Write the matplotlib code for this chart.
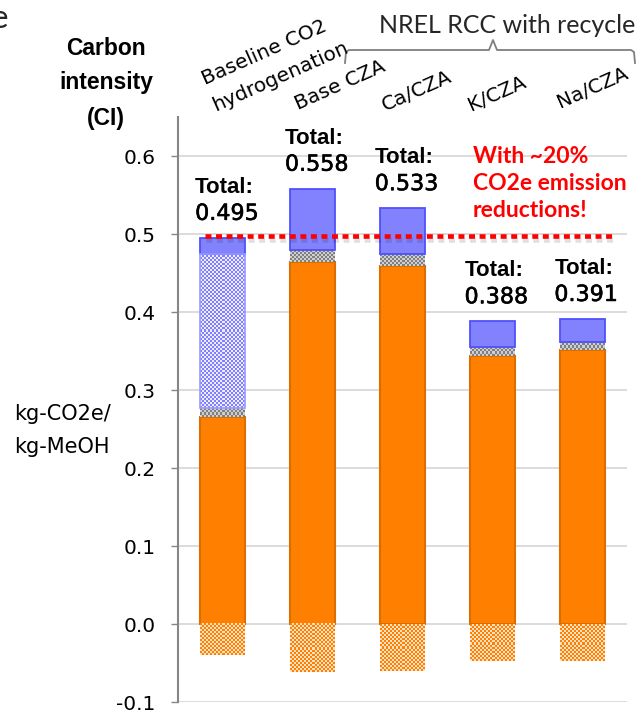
import numpy as np
import matplotlib
matplotlib.use('Agg')
import matplotlib.pyplot as plt
import matplotlib.patheffects as pe
from matplotlib.colors import to_rgb
from matplotlib.lines import Line2D

# CI breakdown per case (kg-CO2e / kg-MeOH)
categories = ['Baseline CO2\nhydrogenation', 'Base CZA', 'Ca/CZA', 'K/CZA', 'Na/CZA']
orange_part = [0.266, 0.464, 0.459, 0.344, 0.351]
gray_part = [0.011, 0.015, 0.015, 0.011, 0.011]
lightblue_part = [0.198, 0.0, 0.0, 0.0, 0.0]
blue_part = [0.020, 0.079, 0.059, 0.033, 0.029]
credit_part = [-0.040, -0.062, -0.060, -0.047, -0.047]
ref_level = 0.497
yticks = [-0.1, 0.0, 0.1, 0.2, 0.3, 0.4, 0.5, 0.6]

plt.rcParams['axes.unicode_minus'] = False
plt.rcParams['font.family'] = ['DejaVu Sans']

W, H = 644, 711
fig = plt.figure(figsize=(W / 100, H / 100), dpi=100)


def fpos(px, py):
    return px / W, 1 - py / H


ax = fig.add_axes([178 / W, 1 - 702 / H, 449 / W, 585 / H])
ax.set_xlim(-0.5, 4.5)
ax.set_ylim(-0.1, 0.65)
ax.set_autoscale_on(False)

x = np.arange(len(categories))
width = 0.5


def checker(c1, c2, rows, cols):
    ii, jj = np.indices((rows, cols))
    mask = ((ii + jj) % 2 == 0)[..., None]
    return np.where(mask, np.array(to_rgb(c1)), np.array(to_rgb(c2)))


def textured_bar(xc, bottom, height, c1, c2, edge=None):
    if height == 0:
        return
    l, r = xc - width / 2, xc + width / 2
    b, t = sorted([bottom, bottom + height])
    p0 = ax.transData.transform((l, b))
    p1 = ax.transData.transform((r, t))
    cols = max(int(round((p1[0] - p0[0]) / 2)), 1)
    rows = max(int(round((p1[1] - p0[1]) / 2)), 1)
    ax.imshow(checker(c1, c2, rows, cols), extent=(l, r, b, t), aspect='auto',
              interpolation='nearest', zorder=3)
    if edge is not None:
        ax.bar(xc, height, width, bottom=bottom, facecolor='none',
               edgecolor=edge, linewidth=1.2, zorder=3.5)


orange = np.array(orange_part)
gray = np.array(gray_part)
lblue = np.array(lightblue_part)
blue = np.array(blue_part)
totals = orange + gray + lblue + blue

ax.bar(x, orange, width, color='#FF8000', edgecolor='#DC6E00', linewidth=1.5, zorder=3)
for i in x:
    textured_bar(i, orange[i], gray[i], '#7F7F7F', '#CFCFCF')
    textured_bar(i, orange[i] + gray[i], lblue[i], '#7F7FFF', '#EDEDFF', edge='#9A9AFF')
    textured_bar(i, 0, credit_part[i], '#FF8000', '#FFE2C4')
ax.bar(x, blue, width, bottom=orange + gray + lblue, color='#8282FF',
       edgecolor='#5050FF', linewidth=1.3, zorder=3)

# total labels
for xi, tot in zip(x, totals):
    ax.annotate(f'{tot:.3f}', (xi, tot), xytext=(-20, 13), textcoords='offset points',
                ha='left', va='baseline', fontsize=16,
                path_effects=[pe.withStroke(linewidth=0.4, foreground='black')])
    ax.annotate('Total:', (xi, tot), xytext=(-20, 32.5), textcoords='offset points',
                ha='left', va='baseline', fontsize=16, fontweight='bold',
                family='Liberation Sans')

# reference level of the baseline case
ax.plot([-0.2, 4.38], [ref_level, ref_level], color='#FF0000', lw=3.3,
        ls=(0, (1.3, 1.0)), dash_capstyle='butt', zorder=6,
        path_effects=[pe.SimpleLineShadow(offset=(0.5, -2.5), shadow_color='k', alpha=0.12),
                      pe.Normal()])
ax.text(2.78, 0.613, 'With ~20%\nCO2e emission\nreductions!', color='#FF0000',
        fontsize=16.5, fontweight='bold', family='Lato', ha='left', va='top',
        linespacing=1.35, zorder=7)

# axes styling
for s in ['top', 'right', 'bottom']:
    ax.spines[s].set_visible(False)
ax.spines['left'].set_color('#868686')
ax.spines['left'].set_linewidth(1.5)
ax.set_xticks([])
ax.set_yticks(yticks)
ax.set_yticklabels([f'{v:.1f}' for v in yticks])
ax.tick_params(axis='y', length=5, width=1, color='#868686', pad=11, labelsize=14.5)
ax.yaxis.grid(True, color='#D9D9D9', linewidth=1.3)
ax.set_axisbelow(True)

# axis titles
fig.text(*fpos(106, 55), 'Carbon', ha='center', va='baseline', fontsize=16.5,
         fontweight='bold', family='Liberation Sans')
fig.text(*fpos(106, 89), 'intensity', ha='center', va='baseline', fontsize=16.5,
         fontweight='bold', family='Liberation Sans')
fig.text(*fpos(106, 125), '(CI)', ha='center', va='baseline', fontsize=16.5,
         fontweight='bold', family='Liberation Sans')
fig.text(*fpos(62, 420), 'kg-CO2e/', ha='center', va='baseline', fontsize=15)
fig.text(*fpos(62, 453), 'kg-MeOH', ha='center', va='baseline', fontsize=15)
fig.text(*fpos(-9, 28), 'e', ha='left', va='baseline', fontsize=24, family='Lato',
         color='#262626')

# rotated case labels
label_pos = [[(205, 85), (215, 111)], [(298, 110)], [(385, 111)], [(471, 111)], [(560, 108)]]
for name, spots in zip(categories, label_pos):
    for line, (px, py) in zip(name.split('\n'), spots):
        fig.text(*fpos(px, py), line, rotation=24, rotation_mode='anchor',
                 ha='left', va='baseline', fontsize=14.5)

# brace over the recycle cases
brace = [(345, 63), (346, 52), (349, 50), (489, 50), (493, 40), (497, 50),
         (631, 50), (634, 52), (635, 63)]
bx, by = zip(*[fpos(px, py) for px, py in brace])
fig.add_artist(Line2D(bx, by, color='#7F7F7F', lw=1.3))
fig.text(*fpos(507, 33), 'NREL RCC with recycle', ha='center', va='baseline',
         fontsize=18, family='Lato', color='#262626')

fig.savefig('out.png', dpi=100)
